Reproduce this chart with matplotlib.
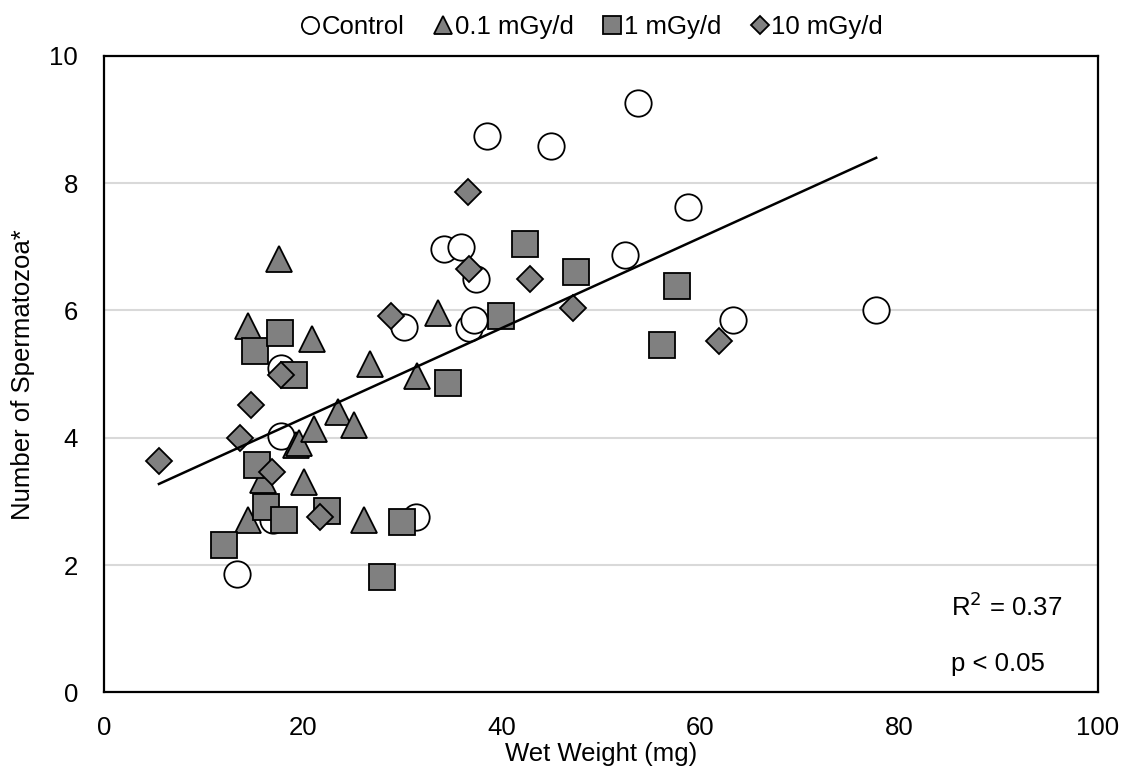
import numpy as np
import matplotlib.pyplot as plt

plt.rcParams['font.family'] = ['Liberation Sans', 'DejaVu Sans']

# wet weight (mg) and number of spermatozoa per group
ctrl_x = [13.4, 17.0, 17.8, 17.8, 30.2, 31.35, 34.2, 35.9, 36.7, 37.2, 37.4, 38.5, 45.0, 52.4, 53.7, 58.8, 63.3, 77.7]
ctrl_y = [1.86, 2.71, 4.02, 5.09, 5.74, 2.76, 6.96, 7.00, 5.73, 5.85, 6.50, 8.75, 8.59, 6.88, 9.26, 7.62, 5.85, 6.00]

low_x = [14.5, 14.46, 16.0, 17.6, 19.3, 19.6, 20.1, 20.9, 21.15, 23.5, 25.1, 26.1, 26.75, 31.5, 33.6]
low_y = [2.71, 5.75, 3.33, 6.81, 3.89, 3.92, 3.31, 5.55, 4.13, 4.41, 4.20, 2.70, 5.16, 4.97, 5.96]

mid_x = [12.1, 15.2, 15.4, 16.3, 17.7, 18.05, 19.1, 22.4, 28.0, 30.0, 34.6, 39.9, 42.35, 47.5, 56.1, 57.7]
mid_y = [2.31, 5.36, 3.57, 2.91, 5.64, 2.70, 4.99, 2.85, 1.81, 2.68, 4.86, 5.92, 7.05, 6.61, 5.46, 6.39]

high_x = [5.5, 13.7, 14.8, 16.9, 17.8, 21.7, 28.9, 36.6, 36.7, 42.9, 47.2, 61.9]
high_y = [3.64, 3.99, 4.51, 3.46, 4.99, 2.76, 5.92, 7.87, 6.65, 6.49, 6.04, 5.52]

fig = plt.figure(figsize=(11.36, 7.73), dpi=100)
ax = fig.add_axes([0.0918, 0.1044, 0.8745, 0.8232])

ax.plot(ctrl_x, ctrl_y, 'o', ms=19, mfc='white', mec='black', mew=1.3, label='Control', zorder=3)
ax.plot(low_x, low_y, '^', ms=19, mfc='#808080', mec='black', mew=1.3, label='0.1 mGy/d', zorder=3)
ax.plot(mid_x, mid_y, 's', ms=19, mfc='#808080', mec='black', mew=1.3, label='1 mGy/d', zorder=3)
ax.plot(high_x, high_y, 'D', ms=13.5, mfc='#808080', mec='black', mew=1.3, label='10 mGy/d', zorder=3)

# linear trend over all groups
all_x = np.array(ctrl_x + low_x + mid_x + high_x)
all_y = np.array(ctrl_y + low_y + mid_y + high_y)
k, b = np.polyfit(all_x, all_y, 1)
xs = np.array([all_x.min(), all_x.max()])
ax.plot(xs, k * xs + b, color='black', lw=1.8, zorder=4)

ax.set_xlim(0, 100)
ax.set_ylim(0, 10)
ax.set_xticks(range(0, 101, 20))
ax.set_yticks(range(0, 11, 2))
ax.tick_params(length=0, labelsize=18.5)
ax.tick_params(axis='x', pad=17)
ax.tick_params(axis='y', pad=19)
ax.yaxis.grid(True, color='#d9d9d9', lw=1.5)
ax.set_axisbelow(True)
for s in ax.spines.values():
    s.set_linewidth(1.6)

ax.set_xlabel('Wet Weight (mg)', fontsize=18.5)
ax.set_ylabel('Number of Spermatozoa*', fontsize=18.5)
ax.xaxis.set_label_coords(0.5, -0.078)
ax.yaxis.set_label_coords(-0.07, 0.5)

ax.text(85.2, 1.34, 'R$^2$ = 0.37', fontsize=18.5, va='center')
ax.text(85.2, 0.45, 'p < 0.05', fontsize=18.5, va='center')

fig.legend(loc='upper center', bbox_to_anchor=(0.522, 1.0), ncol=4, frameon=False,
           fontsize=18.5, markerscale=0.65, handlelength=0.6, handletextpad=0.15,
           columnspacing=1.2, borderaxespad=0.2)

fig.savefig('out.png', dpi=100)
